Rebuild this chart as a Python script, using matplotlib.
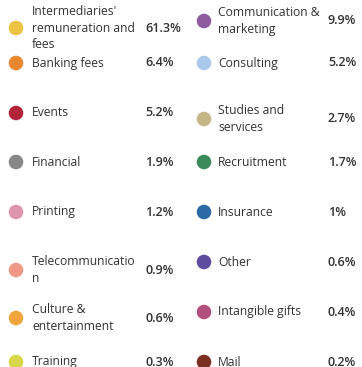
import matplotlib.pyplot as plt

# cost breakdown, two columns
left_labels = ["Intermediaries'\nremuneration and\nfees", "Banking fees", "Events", "Financial",
               "Printing", "Telecommunicatio\nn", "Culture &\nentertainment", "Training"]
left_values = [61.3, 6.4, 5.2, 1.9, 1.2, 0.9, 0.6, 0.3]
left_colors = ["#ECC444", "#E8872F", "#B3233A", "#878787",
               "#E095AF", "#EE9A84", "#EEA63C", "#D8D64A"]

right_labels = ["Communication &\nmarketing", "Consulting", "Studies and\nservices", "Recruitment",
                "Insurance", "Other", "Intangible gifts", "Mail"]
right_values = [9.9, 5.2, 2.7, 1.7, 1.0, 0.6, 0.4, 0.2]
right_colors = ["#8D5C9E", "#A8C8EC", "#C6B786", "#3A8A5B",
                "#2F69A5", "#5E4C9E", "#B0507B", "#7B2F20"]

# row centres (pixels from top) for each column
left_rows = [28, 63, 113, 162, 212, 270, 318, 362]
right_rows = [21, 63, 119, 162, 212, 262, 312, 362]

W, H = 362, 367
fig = plt.figure(figsize=(W / 100, H / 100), dpi=100)
ax = fig.add_axes([0, 0, 1, 1])
ax.set_xlim(0, W)
ax.set_ylim(H, 0)
ax.axis('off')

font = ['Open Sans', 'DejaVu Sans']
text_color = '#333333'

def draw_column(labels, values, colors, rows, x_dot, x_label, x_value):
    ax.scatter([x_dot] * len(rows), rows, s=110, c=colors, linewidths=0, zorder=3)
    for lab, val, y in zip(labels, values, rows):
        ax.text(x_label, y, lab, family=font, fontsize=8.7, color=text_color,
                va='center', ha='left', linespacing=1.32)
        ax.text(x_value, y, f"{val:g}%", family=font, fontsize=9.0, color=text_color,
                fontweight='semibold', va='center', ha='left')

draw_column(left_labels, left_values, left_colors, left_rows, 16, 32, 145)
draw_column(right_labels, right_values, right_colors, right_rows, 204, 218, 328)

fig.savefig('out.png', dpi=100)
